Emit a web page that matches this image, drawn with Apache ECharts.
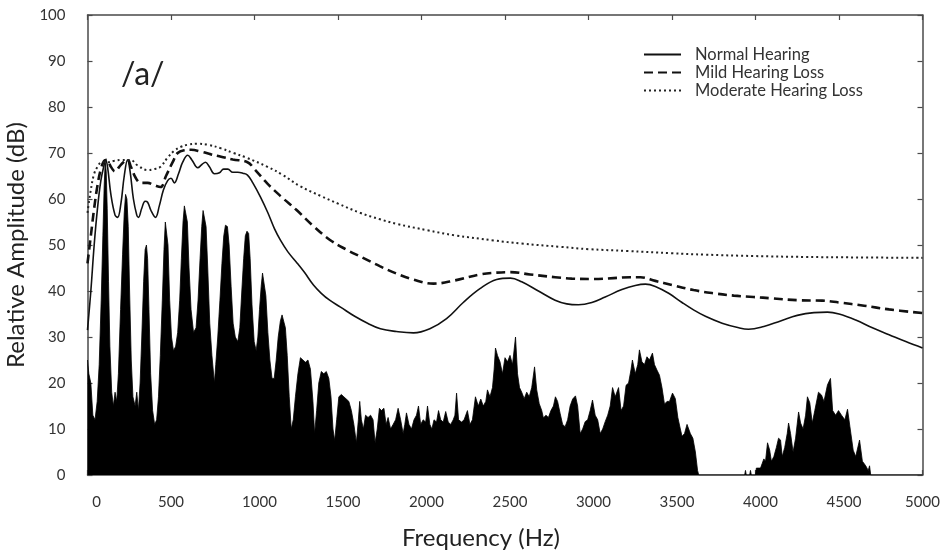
<!DOCTYPE html>
<html>
<head>
<meta charset="utf-8">
<script src="https://cdn.jsdelivr.net/npm/echarts@6/dist/echarts.min.js"></script>
<style>
html,body{margin:0;padding:0;background:#fff;}
#chart{width:941px;height:558px;}
</style>
</head>
<body>
<div id="chart"></div>
<script>
// ---- Data (Hz, dB) ----
const xTicks = [0, 500, 1000, 1500, 2000, 2500, 3000, 3500, 4000, 4500, 5000];
const yTicks = [0, 10, 20, 30, 40, 50, 60, 70, 80, 90, 100];
const seriesNames = ['Normal Hearing', 'Mild Hearing Loss', 'Moderate Hearing Loss'];

const spectrum = [
  [0,25],[8,22],[20,20],[32,13],[45,12],[58,16],[70,24],[82,38],[92,52],[100,63],[106,68],[112,66],[118,58],[126,42],[134,28],
  [145,18],[155,15],[165,18],[175,16],[185,22],[198,36],[210,48],[220,57],[228,61],[236,60],[244,54],[252,40],[262,25],[272,17],
  [285,15],[295,18],[305,14],[315,20],[325,30],[336,42],[345,49],[353,50],[360,47],[368,36],[378,22],[390,14],[402,11],[414,12],
  [425,17],[436,26],[448,38],[458,49],[466,55],[474,55],[482,50],[492,38],[503,30],[515,27],[528,28],[540,31],[552,38],[562,47],
  [572,55],[580,58.5],[590,58.5],[598,55],[608,45],[620,36],[635,31],[650,32],[662,38],[674,47],[684,54],[692,57.5],[702,57.5],
  [710,54],[720,45],[732,33],[745,26],[760,20],[768,24],[780,30],[793,38],[805,46],[816,52],[826,54.3],[838,54],[848,50],[860,41],
  [872,33],[885,30],[900,29],[912,32],[924,40],[935,47],[945,52],[955,53],[965,52.5],[974,47],[985,37],[998,29],[1010,27],
  [1020,30],[1030,36],[1040,41],[1048,43.9],[1058,43.5],[1068,39],[1080,31],[1092,25],[1105,21],[1118,21],[1130,25],[1142,30],
  [1155,33.5],[1165,34.8],[1175,34.5],[1185,32],[1196,26],[1208,17],[1220,10],[1232,12],
  [1245,17],[1260,22],[1275,25.5],[1290,25],[1305,24.5],[1320,25],[1335,23],[1350,16],[1360,9],[1372,14],[1385,20],[1400,22.5],
  [1415,22],[1430,22.5],[1445,21],[1458,17],[1470,10],[1480,7.5],[1492,12],[1505,17],[1520,17.5],[1535,17],[1550,16.5],[1565,16],
  [1580,14],[1595,11],[1610,7],[1622,12],[1630,16],[1640,12],[1652,10],[1665,13],[1680,12.5],[1695,13],[1710,12],[1722,7],
  [1735,10],[1748,14.5],[1760,14],[1775,14.5],[1788,11],[1800,12.5],[1815,10],[1830,11],[1845,12],[1860,14.5],[1875,12],[1890,9],
  [1900,11],[1910,13.5],[1925,11],[1940,10],[1955,12],[1970,13],[1982,15],[1995,11],[2010,12],[2025,11.5],[2036,15],[2050,11],
  [2062,10],[2075,12],[2090,11.5],[2102,14],[2115,12],[2130,11.5],[2145,13.8],[2160,11.5],[2175,11],[2190,12],[2200,13],[2210,17.8],
  [2222,12],[2240,11.5],[2255,12],[2275,14],[2290,11],[2305,12],[2323,17],[2340,15],[2355,16.5],[2370,15],[2385,16],[2395,18.5],
  [2410,17],[2425,19],[2435,23],[2443,27.6],[2455,26],[2470,24.6],[2485,22],[2500,25.5],[2515,24.6],[2530,26],[2545,24],[2563,30],
  [2575,22],[2587,19],[2600,18],[2615,16.6],[2630,18],[2645,17],[2660,19],[2677,23.5],[2690,18.5],[2705,15.5],[2720,14],[2730,12.4],
  [2745,13],[2760,12.5],[2775,14],[2790,15],[2802,17],[2815,16],[2830,13.4],[2845,11],[2860,10.5],[2875,12],[2890,15],[2905,16.5],
  [2922,17.2],[2935,15],[2950,9],[2965,10],[2980,11.6],[2995,12],[3010,14],[3024,16.3],[3040,13],[3055,12],[3070,9],[3085,10],
  [3100,11.6],[3115,13],[3130,15],[3144,19],[3160,17],[3180,19],[3195,14],[3210,15],[3225,19.5],[3240,20],[3255,23],[3263,25],
  [3280,22],[3295,24],[3305,27.2],[3320,24.6],[3335,24],[3350,25.7],[3365,25],[3383,26.5],[3395,24],[3410,22.8],[3425,21.7],
  [3440,19],[3455,15.4],[3470,16],[3485,16],[3503,17.8],[3520,16.6],[3535,12.5],[3550,10],[3560,8.4],[3575,9],[3590,11],[3599,11],
  [3610,9],[3625,8],[3640,5],[3653,1],[3660,0],[3935,0],[3940,1],[3945,0],[3965,0],[3970,1],[3975,0],[4000,0],[4005,1.5],
  [4030,1.5],[4040,2.5],[4050,3.5],[4060,3],[4072,7],[4085,5.4],[4095,3],[4110,4],[4125,6],[4138,8],[4150,7.6],[4160,4],[4175,6],
  [4190,9],[4198,11.3],[4210,9],[4225,5],[4240,8],[4258,13.7],[4270,11.3],[4285,10],[4300,13],[4311,17],[4325,15.7],[4340,11.3],
  [4355,14],[4377,18],[4395,17.4],[4410,16],[4431,19.6],[4449,21],[4462,14],[4480,13],[4497,14],[4515,13],[4535,12],[4551,14.3],
  [4565,10.6],[4585,5.4],[4600,4],[4623,7.6],[4640,3],[4660,2],[4675,1],[4683,2],[4690,0],[5000,0]
];

const normalHearing = [
  [0,31.5],[20,40],[40,50],[60,58],[80,64],[100,67.5],[108,68.5],[120,67],[140,61],[165,56.5],[180,56],[200,59],[220,65],
  [240,68.5],[255,66],[275,60],[295,56.5],[305,56],[325,58],[345,59.5],[360,59.3],[380,57.5],[407,56],[430,58.5],[455,62],
  [480,64],[500,64.5],[520,63.5],[545,65.5],[570,68],[600,69.5],[625,68.5],[660,66.8],[685,67.5],[706,68],[730,67],[760,65.5],
  [790,65.7],[815,66.5],[840,66.5],[870,65.8],[900,65.8],[930,65.6],[958,65.2],[990,63.5],[1036,60.4],[1080,57],[1120,53.5],
  [1156,51],[1200,48.5],[1257,46],[1300,44],[1353,41.3],[1400,39.5],[1450,38],[1515,36.5],[1600,34.5],[1677,33],[1754,31.8],
  [1850,31.2],[1952,30.9],[2050,31.8],[2150,34],[2250,37.5],[2350,40.5],[2450,42.5],[2533,42.8],[2600,42],[2700,40],[2800,38],
  [2870,37.2],[2940,37],[3020,37.5],[3100,38.7],[3200,40.3],[3280,41.2],[3341,41.5],[3400,41],[3480,39.5],[3560,37.5],[3629,35.9],
  [3700,34.5],[3800,33],[3900,32],[3958,31.7],[4050,32.3],[4150,33.5],[4250,34.7],[4350,35.3],[4431,35.4],[4500,35],[4600,33.7],
  [4700,32],[4800,30.5],[4900,29],[5000,27.6]
];

const mildLoss = [
  [0,46],[20,52],[40,58],[60,63],[80,66.5],[100,68.3],[115,68.5],[140,67],[165,66],[190,67],[215,68],[240,68.5],[260,67],
  [290,64.5],[320,63.5],[360,63.5],[400,63],[437,62.6],[470,65],[510,68],[540,70],[580,70.6],[620,70.7],[680,70.3],[740,69.7],
  [800,69.2],[870,68.6],[958,68],[1000,66.5],[1076,63.4],[1160,60.5],[1252,57.6],[1350,54.2],[1452,51.1],[1550,49],[1650,47.2],
  [1750,45.4],[1850,43.8],[1950,42.5],[2072,41.6],[2200,42.3],[2350,43.6],[2450,44],[2533,44.1],[2650,43.6],
  [2800,43],[2900,42.7],[3030,42.6],[3150,42.8],[3250,43],[3311,43],[3400,42.2],[3500,41.3],[3629,40.2],[3750,39.5],[3870,39],
  [3988,38.7],[4100,38.4],[4250,38],[4400,37.9],[4500,37.5],[4650,36.8],[4800,36],[5000,35.2]
];

const moderateLoss = [
  [0,57],[20,62],[40,65.5],[60,67],[85,68],[120,68],[160,68.3],[200,68.5],[257,68.5],[300,67.3],[360,66.3],[400,66.5],[437,67],
  [480,69],[520,70.5],[557,71.3],[600,71.8],[660,72],[720,71.8],[800,71],[874,70],[950,69],[1078,67],[1170,65.2],[1272,62.8],
  [1400,60.6],[1500,59],[1632,57],[1751,55.6],[1850,54.6],[2036,53.2],[2200,52.1],[2431,51],[2600,50.3],[2832,49.6],[3000,49.1],
  [3233,48.7],[3500,48.2],[3700,47.9],[3988,47.6],[4300,47.4],[4600,47.3],[5000,47.2]
];

// ---- Chart ----
const FONT = 'Lato';
const axisColor = '#4a4a4a';
const chart = echarts.init(document.getElementById('chart'), null, {renderer: 'canvas'});

const baseX = {
  type: 'value', min: xTicks[0], max: xTicks[xTicks.length - 1], interval: xTicks[1] - xTicks[0],
  splitLine: {show: false},
  axisLine: {show: true, onZero: false, lineStyle: {color: axisColor, width: 1.5}},
  axisTick: {show: true, inside: true, length: 5, lineStyle: {color: axisColor, width: 1.2}}
};
const baseY = {
  type: 'value', min: yTicks[0], max: yTicks[yTicks.length - 1], interval: yTicks[1] - yTicks[0],
  splitLine: {show: false},
  axisLine: {show: true, onZero: false, lineStyle: {color: axisColor, width: 1.5}},
  axisTick: {show: true, inside: true, length: 5, lineStyle: {color: axisColor, width: 1.2}}
};

const xMax = xTicks[xTicks.length - 1];
function xLabelFormatter(v) {
  if (v === 0) return '{z|' + v + '}';
  if (v === 500 || v === xMax) return '{p|' + v + '}';
  return '{s|' + v + '}';
}
const labelFont = {fontFamily: FONT, fontSize: 15, color: '#333'};

chart.setOption({
  backgroundColor: '#ffffff',
  animation: false,
  title: {
    text: '/a/', left: 116, top: 54,
    textStyle: {fontFamily: FONT, fontSize: 32, fontWeight: 'normal', color: '#222'}
  },
  legend: {
    data: seriesNames,
    orient: 'vertical', left: 638, top: 41,
    itemWidth: 37, itemHeight: 16, itemGap: 1,
    itemStyle: {opacity: 0},
    textStyle: {fontFamily: FONT, fontSize: 16.5, color: '#333', lineHeight: 16, padding: [0, 0, 0, 9]}
  },
  grid: {left: 87.5, right: 18.5, top: 15, bottom: 83, containLabel: false, outerBoundsMode: 'none'},
  xAxis: [
    Object.assign({}, baseX, {
      position: 'bottom',
      name: 'Frequency (Hz)', nameLocation: 'middle', nameGap: 51,
      nameTextStyle: {fontFamily: FONT, fontSize: 24, color: '#222', padding: [0, 48, 0, 0]},
      axisLabel: Object.assign({}, labelFont, {
        margin: 20,
        formatter: xLabelFormatter,
        rich: {
          z: Object.assign({}, labelFont, {padding: [0, 0, 0, 18]}),
          s: Object.assign({}, labelFont, {padding: [0, 0, 0, 10]}),
          p: Object.assign({}, labelFont)
        }
      })
    }),
    Object.assign({}, baseX, {position: 'top', axisLabel: {show: false}})
  ],
  yAxis: [
    Object.assign({}, baseY, {
      position: 'left',
      name: 'Relative Amplitude (dB)', nameLocation: 'middle', nameGap: 46, nameRotate: 90,
      nameTextStyle: {fontFamily: FONT, fontSize: 24, color: '#222'},
      axisLabel: Object.assign({}, labelFont, {margin: 22})
    }),
    Object.assign({}, baseY, {position: 'right', axisLabel: {show: false}})
  ],
  series: [
    {
      name: 'Spectrum', type: 'line', xAxisIndex: 0, yAxisIndex: 0,
      data: spectrum, symbol: 'none', smooth: false, z: 1,
      lineStyle: {color: '#000', width: 0.8},
      areaStyle: {color: '#000', opacity: 1}
    },
    {
      name: seriesNames[0], type: 'line', data: normalHearing, symbol: 'none', smooth: 0.4, z: 3,
      lineStyle: {color: '#111', width: 1.6, type: 'solid'}, itemStyle: {color: '#111'}
    },
    {
      name: seriesNames[1], type: 'line', data: mildLoss, symbol: 'none', smooth: 0.4, z: 3,
      lineStyle: {color: '#111', width: 2.6, type: [9, 5]}, itemStyle: {color: '#111'}
    },
    {
      name: seriesNames[2], type: 'line', data: moderateLoss, symbol: 'none', smooth: 0.4, z: 3,
      lineStyle: {color: '#222', width: 2, type: [2, 3]}, itemStyle: {color: '#222'}
    }
  ]
});
</script>
</body>
</html>
